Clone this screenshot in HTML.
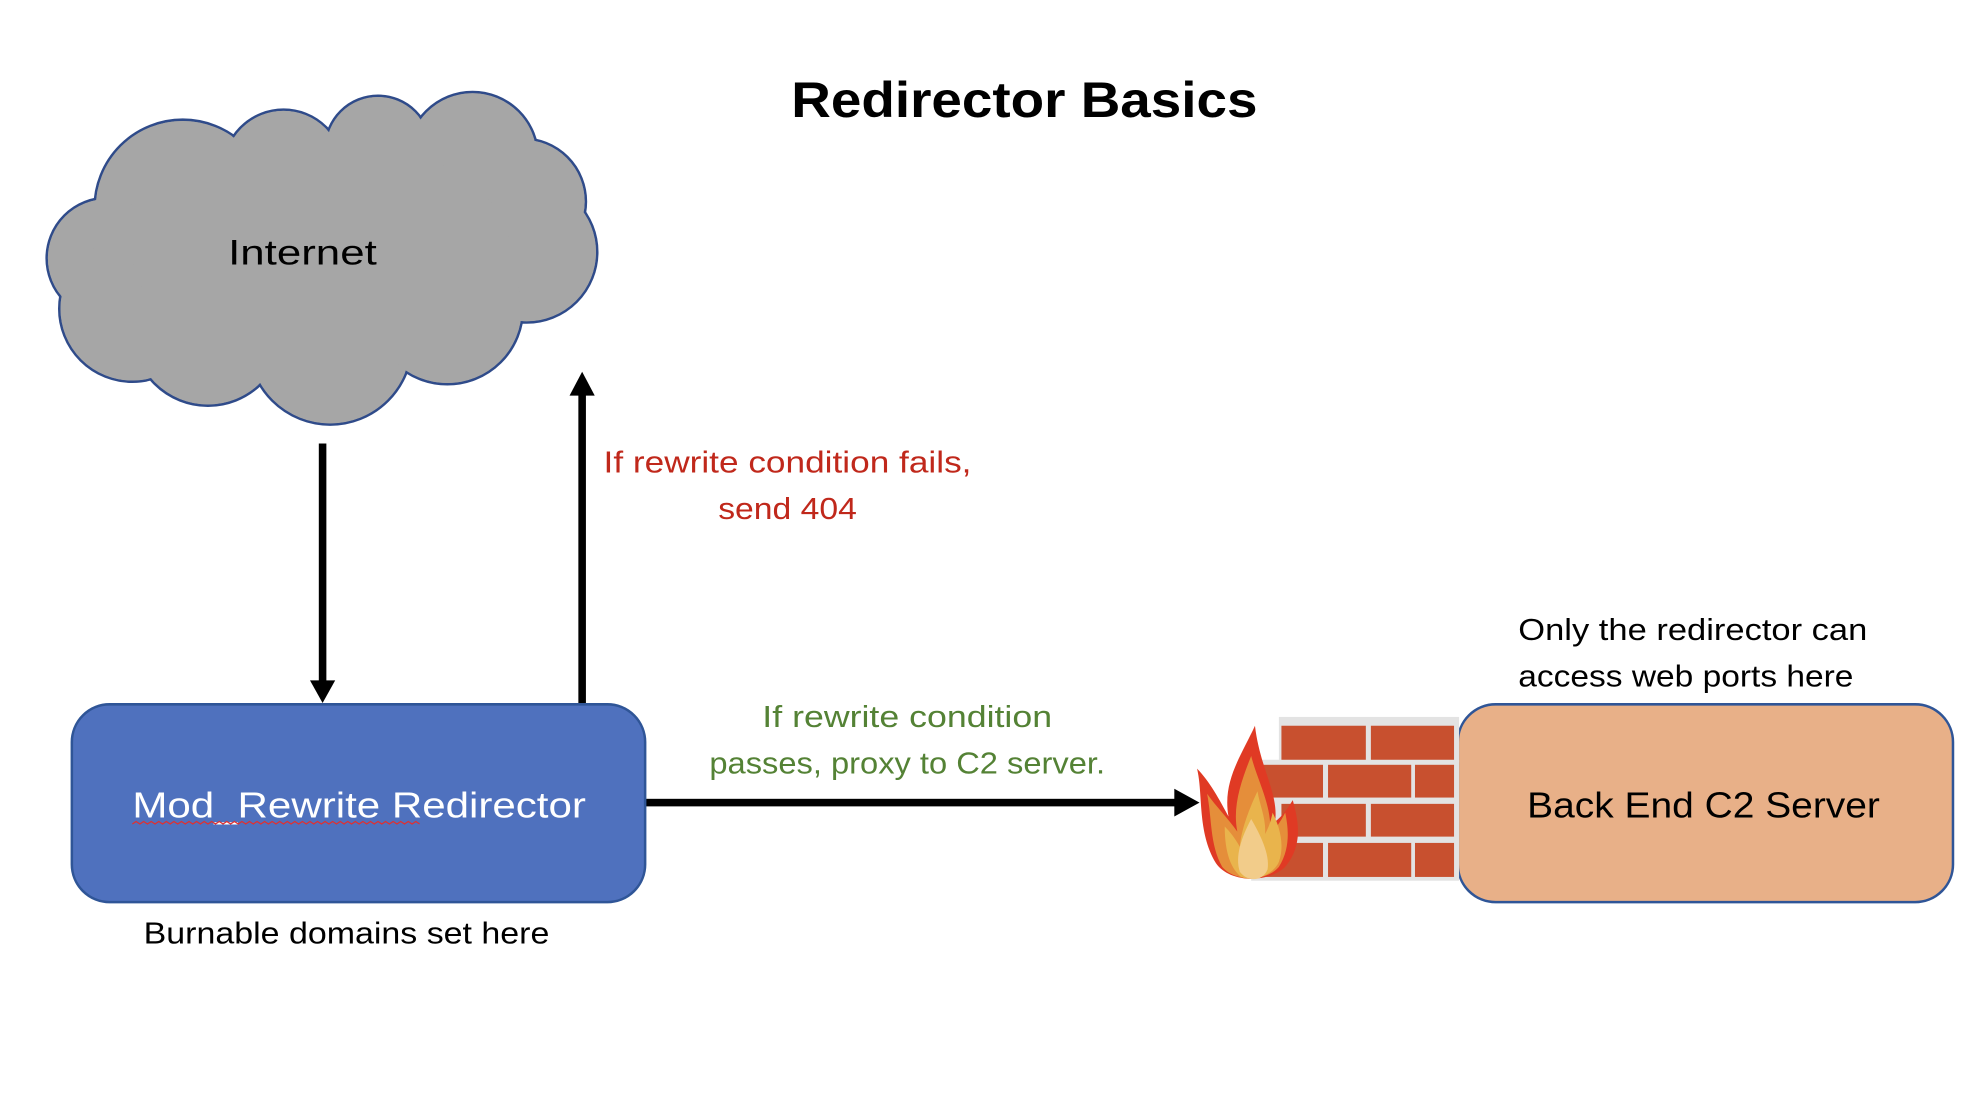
<!DOCTYPE html>
<html><head><meta charset="utf-8"><style>html,body{margin:0;padding:0;background:#fff}svg{display:block}</style></head>
<body>
<svg width="1966" height="1106" viewBox="0 0 1560.3 877.8" xmlns="http://www.w3.org/2000/svg" font-family="Liberation Sans, sans-serif">
<text x="813" y="93" font-size="40" font-weight="bold" text-anchor="middle" textLength="370" lengthAdjust="spacingAndGlyphs">Redirector Basics</text>
<!-- cloud -->
<g stroke="#2f4b8a" stroke-width="2" fill="#a6a6a6">
<circle cx="145" cy="165" r="70"/><circle cx="225" cy="135" r="48"/><circle cx="300" cy="118" r="42"/><circle cx="375" cy="125" r="52"/><circle cx="415" cy="160" r="50"/><circle cx="418" cy="200" r="56"/><circle cx="85" cy="205" r="48"/><circle cx="105" cy="245" r="58"/><circle cx="165" cy="262" r="60"/><circle cx="262" cy="272" r="65"/><circle cx="355" cy="245" r="60"/>
</g>
<g fill="#a6a6a6">
<circle cx="145" cy="165" r="69"/><circle cx="225" cy="135" r="47"/><circle cx="300" cy="118" r="41"/><circle cx="375" cy="125" r="51"/><circle cx="415" cy="160" r="49"/><circle cx="418" cy="200" r="55"/><circle cx="85" cy="205" r="47"/><circle cx="105" cy="245" r="57"/><circle cx="165" cy="262" r="59"/><circle cx="262" cy="272" r="64"/><circle cx="355" cy="245" r="59"/><ellipse cx="255" cy="200" rx="150" ry="90"/>
</g>
<text x="240" y="210" font-size="28" text-anchor="middle" textLength="118" lengthAdjust="spacingAndGlyphs">Internet</text>
<!-- arrows -->
<rect x="253" y="352" width="6" height="190" fill="#000"/>
<polygon points="246,540 266,540 256,558" fill="#000"/>
<rect x="459" y="312" width="6" height="247" fill="#000"/>
<polygon points="452,314 472,314 462,295" fill="#000"/>
<rect x="512" y="634" width="422" height="6" fill="#000"/>
<polygon points="932,626 932,648 952,637" fill="#000"/>
<text x="625" y="375" font-size="24" fill="#c0281b" text-anchor="middle" textLength="292" lengthAdjust="spacingAndGlyphs">If rewrite condition fails,</text>
<text x="625" y="412" font-size="24" fill="#c0281b" text-anchor="middle" textLength="110" lengthAdjust="spacingAndGlyphs">send 404</text>
<text x="720" y="577" font-size="24" fill="#548235" text-anchor="middle" textLength="230" lengthAdjust="spacingAndGlyphs">If rewrite condition</text>
<text x="720" y="614" font-size="24" fill="#548235" text-anchor="middle" textLength="314" lengthAdjust="spacingAndGlyphs">passes, proxy to C2 server.</text>
<!-- blue box -->
<rect x="57" y="559" width="455" height="157" rx="30" fill="#4f71be" stroke="#2f5597" stroke-width="2"/>
<text x="285" y="649" font-size="29" fill="#fff" text-anchor="middle" textLength="360" lengthAdjust="spacingAndGlyphs">Mod_Rewrite Redirector</text>
<path d="M105,654 l3,-2 3,2 3,-2 3,2 3,-2 3,2 3,-2 3,2 3,-2 3,2 3,-2 3,2 3,-2 3,2 3,-2 3,2 3,-2 3,2 3,-2 3,2 3,-2 3,2 3,-2 3,2 3,-2 3,2 3,-2 3,2 3,-2 3,2 3,-2 3,2 3,-2 3,2 3,-2 3,2 3,-2 3,2 3,-2 3,2 3,-2 3,2 3,-2 3,2 3,-2 3,2 3,-2 3,2 3,-2 3,2 3,-2 3,2 3,-2 3,2 3,-2 3,2 3,-2 3,2 3,-2 3,2 3,-2 3,2 3,-2 3,2 3,-2 3,2 3,-2 3,2 3,-2 3,2 3,-2 3,2 3,-2 3,2 3,-2 3,2" fill="none" stroke="#e03030" stroke-width="1"/>
<text x="275" y="749" font-size="24" text-anchor="middle" textLength="322" lengthAdjust="spacingAndGlyphs">Burnable domains set here</text>
<!-- orange box -->
<rect x="1157" y="559" width="393" height="157" rx="30" fill="#e8b088" stroke="#2f5597" stroke-width="2"/>
<text x="1352" y="649" font-size="29" text-anchor="middle" textLength="280" lengthAdjust="spacingAndGlyphs">Back End C2 Server</text>
<text x="1205" y="508" font-size="24" textLength="277" lengthAdjust="spacingAndGlyphs">Only the redirector can</text>
<text x="1205" y="545" font-size="24" textLength="266" lengthAdjust="spacingAndGlyphs">access web ports here</text>
<!-- firewall -->
<rect x="1015" y="569" width="143" height="36" fill="#e3e3e3"/>
<rect x="993" y="603" width="165" height="96" fill="#e3e3e3"/>
<g fill="#c8502f">
<rect x="1017" y="576" width="67" height="27"/><rect x="1088" y="576" width="66" height="27"/>
<rect x="996" y="607" width="54" height="26"/><rect x="1054" y="607" width="66" height="26"/><rect x="1123" y="607" width="31" height="26"/>
<rect x="1017" y="638" width="67" height="26"/><rect x="1088" y="638" width="66" height="26"/>
<rect x="996" y="669" width="54" height="27"/><rect x="1054" y="669" width="66" height="27"/><rect x="1123" y="669" width="31" height="27"/>
</g>
<path d="M996,576 C985,600 970,620 975,648 C968,635 960,620 950,610 C955,630 950,660 965,685 C975,700 1005,702 1020,688 C1035,670 1030,650 1026,635 C1020,645 1015,650 1012,652 C1015,630 1000,610 996,576Z" fill="#e03a24"/>
<path d="M993,600 C985,620 978,640 982,660 C975,650 965,640 958,630 C962,650 960,670 970,688 C980,700 1005,700 1015,688 C1025,672 1022,655 1020,645 C1015,655 1010,660 1008,662 C1010,640 998,620 993,600Z" fill="#e58e3a"/>
<path d="M998,628 C990,645 985,660 984,672 C980,665 976,660 972,656 C972,672 975,688 985,696 C995,700 1010,695 1015,684 C1020,670 1015,655 1010,645 C1008,655 1005,660 1004,662 C1005,650 1000,640 998,628Z" fill="#e9b44c"/>
<path d="M993,650 C985,665 980,680 984,692 C990,700 1002,700 1006,690 C1008,678 1000,662 993,650Z" fill="#f2cc8a"/>
</svg>
</body></html>
